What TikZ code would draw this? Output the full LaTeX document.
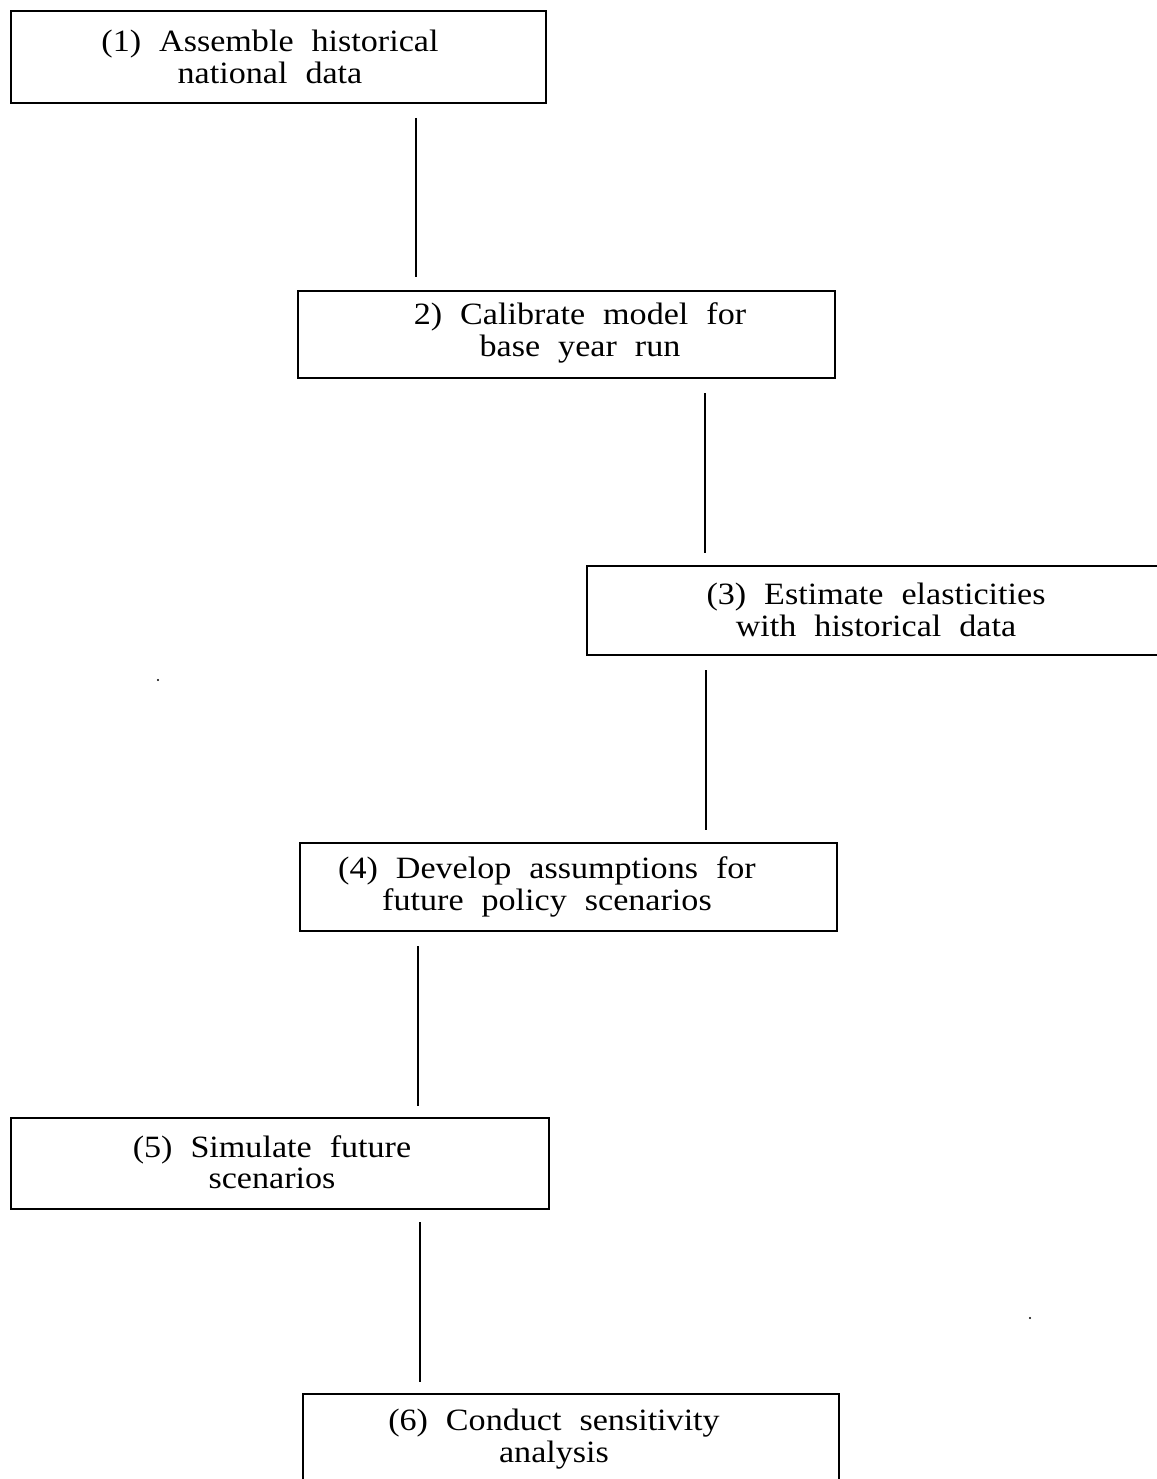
\documentclass[tikz,border=0pt]{standalone}
\usepackage{fontspec}
\setmainfont{Liberation Serif}[FakeStretch=1.1]
\newcommand\ws{\hspace{18pt}}
\begin{document}
\begin{tikzpicture}[x=1pt,y=-1pt,
  stepbox/.style={draw=black,line width=1.8pt,inner sep=0pt,anchor=north west},
  txt/.style={align=center,inner sep=0pt,font=\fontsize{31}{31.5}\selectfont},
  link/.style={draw=black,line width=1.8pt}]
\useasboundingbox[fill=white] (0,0) rectangle (1156,1479);
% boxes
\node[stepbox,minimum width=535pt,minimum height=92pt] (b1) at (10,10) {};
\node[stepbox,minimum width=537pt,minimum height=87pt] (b2) at (297,290) {};
\node[stepbox,minimum width=600pt,minimum height=89pt] (b3) at (586,565) {};
\node[stepbox,minimum width=537pt,minimum height=88pt] (b4) at (299,842) {};
\node[stepbox,minimum width=538pt,minimum height=91pt] (b5) at (10,1117) {};
\node[stepbox,minimum width=536pt,minimum height=120pt] (b6) at (302,1393) {};
% texts
\node[txt] (t1) at (270,57) {(1)\ws Assemble\ws historical\\national\ws data};
\node[txt] (t2) at (580,333) {2)\ws Calibrate\ws model\ws for\\base\ws year\ws run};
\node[txt] (t3) at (876,610) {(3)\ws Estimate\ws elasticities\\with\ws historical\ws data};
\node[txt] (t4) at (547,887) {(4)\ws Develop\ws assumptions\ws for\\future\ws policy\ws scenarios};
\node[txt] (t5) at (272,1162) {(5)\ws Simulate\ws future\\scenarios};
\node[txt] (t6) at (554,1439) {(6)\ws Conduct\ws sensitivity\\analysis};
% connector ends
\coordinate (l1a) at (416,118); \coordinate (l1b) at (416,277);
\coordinate (l2a) at (705,393); \coordinate (l2b) at (705,553);
\coordinate (l3a) at (706,670); \coordinate (l3b) at (706,830);
\coordinate (l4a) at (418,946); \coordinate (l4b) at (418,1106);
\coordinate (l5a) at (420,1222); \coordinate (l5b) at (420,1382);
\draw[link] (l1a) -- (l1b);
\draw[link] (l2a) -- (l2b);
\draw[link] (l3a) -- (l3b);
\draw[link] (l4a) -- (l4b);
\draw[link] (l5a) -- (l5b);
% specks
\fill (158,680) circle (1.2);
\fill (1030,1318) circle (1.2);
\end{tikzpicture}
\end{document}
